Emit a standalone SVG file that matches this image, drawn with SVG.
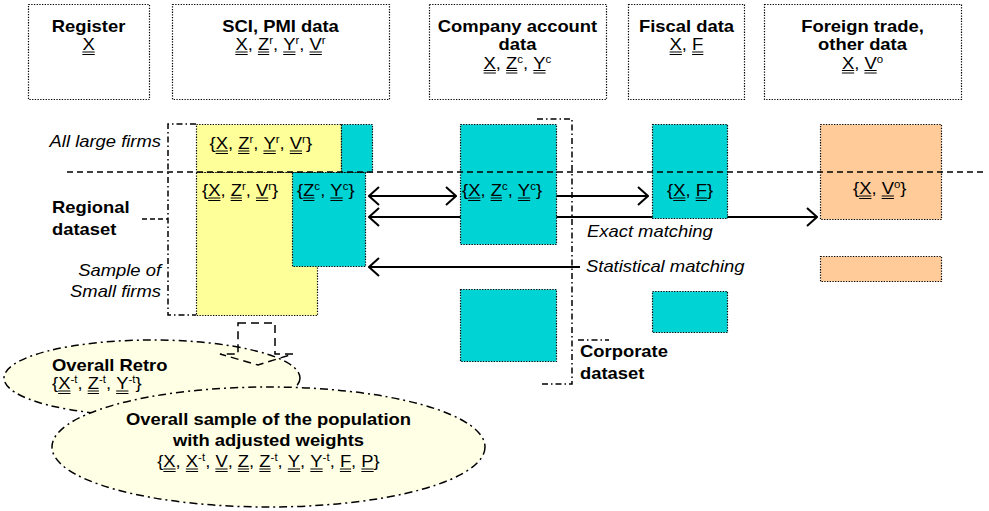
<svg xmlns="http://www.w3.org/2000/svg" width="989" height="511" viewBox="0 0 989 511">
<defs>
<style>
.t{font-family:"Liberation Sans",Arial,sans-serif;font-size:16px;fill:#000;font-kerning:none}
.b{font-weight:bold}
.i{font-style:italic}
.s{font-size:10px}
.ul{stroke:#000;stroke-width:0.9;fill:none}
.src{fill:#fff;stroke:#000;stroke-width:1.2;stroke-dasharray:1.3 1.4}
.box{stroke:#000;stroke-width:1.2;stroke-dasharray:1.3 1.4}
.yel{fill:#FFFF99}
.cy{fill:#00D3D3}
.or{fill:#FFCC99}
.arr{stroke:#000;stroke-width:2;fill:none}
.dd{fill:none;stroke:#000;stroke-width:1.5;stroke-dasharray:6 3 1.5 3}
.sep{fill:none;stroke:#000;stroke-width:1.5;stroke-dasharray:6 4}
.ell{fill:#FFFFE5;stroke:#000;stroke-width:1.5;stroke-dasharray:8 4 2 4}
.blk{fill:none;stroke:#000;stroke-width:1.5;stroke-dasharray:8 5}
</style>
<marker id="ah" viewBox="0 0 12 20" refX="11" refY="10" markerWidth="12" markerHeight="20" markerUnits="userSpaceOnUse" orient="auto-start-reverse">
<path d="M1,1 L11,10 L1,19" fill="none" stroke="#000" stroke-width="2"/>
</marker>
</defs>
<rect width="989" height="511" fill="#fff"/>

<g id="sources">
<g id="src-register">
<rect class="src" x="28.5" y="4.5" width="121" height="95"/>
<text class="t b" text-anchor="middle" transform="translate(88.5,31.5) scale(1.15,1)">Register</text>
<g transform="translate(82.4,50) scale(1.15,1)">
<text class="t"><tspan x="0" y="0">X</tspan></text>
<path class="ul" d="M0,2H10.67M0,4.5H10.67"/>
</g>
</g>
<g id="src-sci">
<rect class="src" x="172.5" y="4.5" width="217" height="95"/>
<text class="t b" text-anchor="middle" transform="translate(280.5,31.5) scale(1.15,1)">SCI, PMI data</text>
<g transform="translate(235.4,50) scale(1.15,1)">
<text class="t"><tspan x="0" y="0">X</tspan><tspan x="10.67" y="0">,</tspan><tspan x="19.57" y="0">Z</tspan><tspan class="s" x="29.34" y="-6">r</tspan><tspan x="32.67" y="0">,</tspan><tspan x="41.57" y="0">Y</tspan><tspan class="s" x="52.24" y="-6">r</tspan><tspan x="55.57" y="0">,</tspan><tspan x="64.47" y="0">V</tspan><tspan class="s" x="75.14" y="-6">r</tspan></text>
<path class="ul" d="M0,2H10.67M0,4.5H10.67M19.57,2H29.34M19.57,4.5H29.34M41.57,2H52.24M41.57,4.5H52.24M64.47,2H75.14M64.47,4.5H75.14"/>
</g>
</g>
<g id="src-company">
<rect class="src" x="429.5" y="4.5" width="177" height="95"/>
<text class="t b" text-anchor="middle" transform="translate(517.5,31.5) scale(1.15,1)">Company account</text>
<text class="t b" text-anchor="middle" transform="translate(517.5,50) scale(1.15,1)">data</text>
<g transform="translate(483.6,68.5) scale(1.15,1)">
<text class="t"><tspan x="0" y="0">X</tspan><tspan x="10.67" y="0">,</tspan><tspan x="19.57" y="0">Z</tspan><tspan class="s" x="29.34" y="-6">c</tspan><tspan x="34.34" y="0">,</tspan><tspan x="43.24" y="0">Y</tspan><tspan class="s" x="53.91" y="-6">c</tspan></text>
<path class="ul" d="M0,2H10.67M0,4.5H10.67M19.57,2H29.34M19.57,4.5H29.34M43.24,2H53.91M43.24,4.5H53.91"/>
</g>
</g>
<g id="src-fiscal">
<rect class="src" x="628.5" y="4.5" width="116" height="95"/>
<text class="t b" text-anchor="middle" transform="translate(686.5,31.5) scale(1.15,1)">Fiscal data</text>
<g transform="translate(669.6,50) scale(1.15,1)">
<text class="t"><tspan x="0" y="0">X</tspan><tspan x="10.67" y="0">,</tspan><tspan x="19.57" y="0">F</tspan></text>
<path class="ul" d="M0,2H10.67M0,4.5H10.67M19.57,2H29.34M19.57,4.5H29.34"/>
</g>
</g>
<g id="src-foreign">
<rect class="src" x="764.5" y="4.5" width="197" height="95"/>
<text class="t b" text-anchor="middle" transform="translate(862.5,31.5) scale(1.15,1)">Foreign trade,</text>
<text class="t b" text-anchor="middle" transform="translate(862.5,50) scale(1.15,1)">other data</text>
<g transform="translate(841.9,68.5) scale(1.15,1)">
<text class="t"><tspan x="0" y="0">X</tspan><tspan x="10.67" y="0">,</tspan><tspan x="19.57" y="0">V</tspan><tspan class="s" x="30.24" y="-6">o</tspan></text>
<path class="ul" d="M0,2H10.67M0,4.5H10.67M19.57,2H30.24M19.57,4.5H30.24"/>
</g>
</g>
</g>

<g id="labels">
<text class="t i" text-anchor="end" transform="translate(161,146.5) scale(1.15,1)">All large firms</text>
<text class="t b" transform="translate(52,213) scale(1.15,1)">Regional</text>
<text class="t b" transform="translate(52,234.5) scale(1.15,1)">dataset</text>
<text class="t i" text-anchor="end" transform="translate(161,275.5) scale(1.15,1)">Sample of</text>
<text class="t i" text-anchor="end" transform="translate(161,297) scale(1.15,1)">Small firms</text>
<text class="t i" transform="translate(587,236.5) scale(1.15,1)">Exact matching</text>
<text class="t i" transform="translate(586,272) scale(1.15,1)">Statistical matching</text>
<text class="t b" transform="translate(580,357) scale(1.15,1)">Corporate</text>
<text class="t b" transform="translate(580,379) scale(1.15,1)">dataset</text>
</g>

<g id="brackets">
<path class="dd" d="M196,124H168V315H196"/>
<path class="sep" d="M142,219H168" style="stroke-dasharray:5 3"/>
<path class="dd" d="M537,119H572V384H542"/>
<path class="dd" d="M578,340H609"/>
</g>

<g id="connectors">
<line class="arr" x1="369" y1="196" x2="456" y2="196" marker-start="url(#ah)" marker-end="url(#ah)"/>
<line class="arr" x1="369" y1="217" x2="817" y2="217" marker-start="url(#ah)" marker-end="url(#ah)"/>
<line class="arr" x1="556" y1="196" x2="648" y2="196" marker-end="url(#ah)"/>
<line class="arr" x1="580" y1="267" x2="369" y2="267" marker-end="url(#ah)"/>
</g>

<g id="regional-large">
<rect class="box yel" x="196.5" y="124.5" width="145" height="48"/>
<g transform="translate(209.5,149) scale(1.15,1)">
<text class="t"><tspan x="0" y="0">{</tspan><tspan x="5.34" y="0">X</tspan><tspan x="16.02" y="0">,</tspan><tspan x="24.91" y="0">Z</tspan><tspan class="s" x="34.69" y="-6">r</tspan><tspan x="38.02" y="0">,</tspan><tspan x="46.91" y="0">Y</tspan><tspan class="s" x="57.59" y="-6">r</tspan><tspan x="60.92" y="0">,</tspan><tspan x="69.81" y="0">V</tspan><tspan class="s" x="80.48" y="-6">r</tspan><tspan x="83.81" y="0">}</tspan></text>
<path class="ul" d="M5.34,2H16.02M5.34,4.5H16.02M24.91,2H34.69M24.91,4.5H34.69M46.91,2H57.59M46.91,4.5H57.59M69.81,2H80.48M69.81,4.5H80.48"/>
</g>
</g>
<g id="regional-large-company">
<rect class="box cy" x="341.5" y="124.5" width="31" height="48"/>
</g>
<g id="regional-small">
<rect class="box yel" x="196.5" y="172.5" width="121" height="143"/>
<g transform="translate(202,196) scale(1.15,1)">
<text class="t"><tspan x="0" y="0">{</tspan><tspan x="5.34" y="0">X</tspan><tspan x="16.02" y="0">,</tspan><tspan x="24.91" y="0">Z</tspan><tspan class="s" x="34.69" y="-6">r</tspan><tspan x="38.02" y="0">,</tspan><tspan x="46.91" y="0">V</tspan><tspan class="s" x="57.59" y="-6">r</tspan><tspan x="60.92" y="0">}</tspan></text>
<path class="ul" d="M5.34,2H16.02M5.34,4.5H16.02M24.91,2H34.69M24.91,4.5H34.69M46.91,2H57.59M46.91,4.5H57.59"/>
</g>
</g>
<g id="regional-company">
<rect class="box cy" x="292.5" y="172.5" width="73" height="94"/>
<g transform="translate(297,196) scale(1.15,1)">
<text class="t"><tspan x="0" y="0">{</tspan><tspan x="5.34" y="0">Z</tspan><tspan class="s" x="15.12" y="-6">c</tspan><tspan x="20.12" y="0">,</tspan><tspan x="29.02" y="0">Y</tspan><tspan class="s" x="39.69" y="-6">c</tspan><tspan x="44.69" y="0">}</tspan></text>
<path class="ul" d="M5.34,2H15.12M5.34,4.5H15.12M29.02,2H39.69M29.02,4.5H39.69"/>
</g>
</g>
<g id="company-data">
<rect class="box cy" x="460.5" y="124.5" width="96" height="120"/>
<g transform="translate(462,196) scale(1.15,1)">
<text class="t"><tspan x="0" y="0">{</tspan><tspan x="5.34" y="0">X</tspan><tspan x="16.02" y="0">,</tspan><tspan x="24.91" y="0">Z</tspan><tspan class="s" x="34.69" y="-6">c</tspan><tspan x="39.69" y="0">,</tspan><tspan x="48.58" y="0">Y</tspan><tspan class="s" x="59.26" y="-6">c</tspan><tspan x="64.26" y="0">}</tspan></text>
<path class="ul" d="M5.34,2H16.02M5.34,4.5H16.02M24.91,2H34.69M24.91,4.5H34.69M48.58,2H59.26M48.58,4.5H59.26"/>
</g>
</g>
<g id="company-lower">
<rect class="box cy" x="460.5" y="289.5" width="96" height="72"/>
</g>
<g id="fiscal-data">
<rect class="box cy" x="652.5" y="124.5" width="75" height="94"/>
<g transform="translate(667,196) scale(1.15,1)">
<text class="t"><tspan x="0" y="0">{</tspan><tspan x="5.34" y="0">X</tspan><tspan x="16.02" y="0">,</tspan><tspan x="24.91" y="0">F</tspan><tspan x="34.69" y="0">}</tspan></text>
<path class="ul" d="M5.34,2H16.02M5.34,4.5H16.02M24.91,2H34.69M24.91,4.5H34.69"/>
</g>
</g>
<g id="fiscal-lower">
<rect class="box cy" x="652.5" y="291.5" width="75" height="41"/>
</g>
<g id="foreign-data">
<rect class="box or" x="820.5" y="124.5" width="121" height="95"/>
<g transform="translate(853,194) scale(1.15,1)">
<text class="t"><tspan x="0" y="0">{</tspan><tspan x="5.34" y="0">X</tspan><tspan x="16.02" y="0">,</tspan><tspan x="24.91" y="0">V</tspan><tspan class="s" x="35.58" y="-6">o</tspan><tspan x="41.14" y="0">}</tspan></text>
<path class="ul" d="M5.34,2H16.02M5.34,4.5H16.02M24.91,2H35.58M24.91,4.5H35.58"/>
</g>
</g>
<g id="foreign-lower">
<rect class="box or" x="820.5" y="256.5" width="121" height="25"/>
</g>

<g id="separator">
<path class="sep" d="M67,172H985"/>
</g>

<g id="overall-retro">
<ellipse class="ell" cx="152" cy="378" rx="148" ry="38"/>
<text class="t b" transform="translate(52,370.5) scale(1.15,1)">Overall Retro</text>
<g transform="translate(52,389) scale(1.15,1)">
<text class="t"><tspan x="0" y="0">{</tspan><tspan x="5.34" y="0">X</tspan><tspan class="s" x="16.02" y="-6">-t</tspan><tspan x="22.13" y="0">,</tspan><tspan x="31.02" y="0">Z</tspan><tspan class="s" x="40.8" y="-6">-t</tspan><tspan x="46.91" y="0">,</tspan><tspan x="55.8" y="0">Y</tspan><tspan class="s" x="66.48" y="-6">-t</tspan><tspan x="72.59" y="0">}</tspan></text>
<path class="ul" d="M5.34,2H16.02M5.34,4.5H16.02M31.02,2H40.8M31.02,4.5H40.8M55.8,2H66.48M55.8,4.5H66.48"/>
</g>
</g>
<g id="down-arrow">
<path class="blk" d="M238,323H275V354H293L258,365L220,354H238Z"/>
</g>
<g id="overall-sample">
<ellipse class="ell" cx="268.5" cy="447" rx="216.5" ry="60"/>
<text class="t b" text-anchor="middle" transform="translate(268.5,425) scale(1.15,1)">Overall sample of the population</text>
<text class="t b" text-anchor="middle" transform="translate(268.5,446) scale(1.15,1)">with adjusted weights</text>
<g transform="translate(157.2,467) scale(1.15,1)">
<text class="t"><tspan x="0" y="0">{</tspan><tspan x="5.34" y="0">X</tspan><tspan x="16.02" y="0">,</tspan><tspan x="24.91" y="0">X</tspan><tspan class="s" x="35.58" y="-6">-t</tspan><tspan x="41.69" y="0">,</tspan><tspan x="50.59" y="0">V</tspan><tspan x="61.26" y="0">,</tspan><tspan x="70.16" y="0">Z</tspan><tspan x="79.93" y="0">,</tspan><tspan x="88.83" y="0">Z</tspan><tspan class="s" x="98.61" y="-6">-t</tspan><tspan x="104.72" y="0">,</tspan><tspan x="113.61" y="0">Y</tspan><tspan x="124.28" y="0">,</tspan><tspan x="133.18" y="0">Y</tspan><tspan class="s" x="143.85" y="-6">-t</tspan><tspan x="149.96" y="0">,</tspan><tspan x="158.86" y="0">F</tspan><tspan x="168.63" y="0">,</tspan><tspan x="177.53" y="0">P</tspan><tspan x="188.2" y="0">}</tspan></text>
<path class="ul" d="M5.34,2H16.02M5.34,4.5H16.02M24.91,2H35.58M24.91,4.5H35.58M50.59,2H61.26M50.59,4.5H61.26M70.16,2H79.93M70.16,4.5H79.93M88.83,2H98.61M88.83,4.5H98.61M113.61,2H124.28M113.61,4.5H124.28M133.18,2H143.85M133.18,4.5H143.85M158.86,2H168.63M158.86,4.5H168.63M177.53,2H188.2M177.53,4.5H188.2"/>
</g>
</g>
</svg>
